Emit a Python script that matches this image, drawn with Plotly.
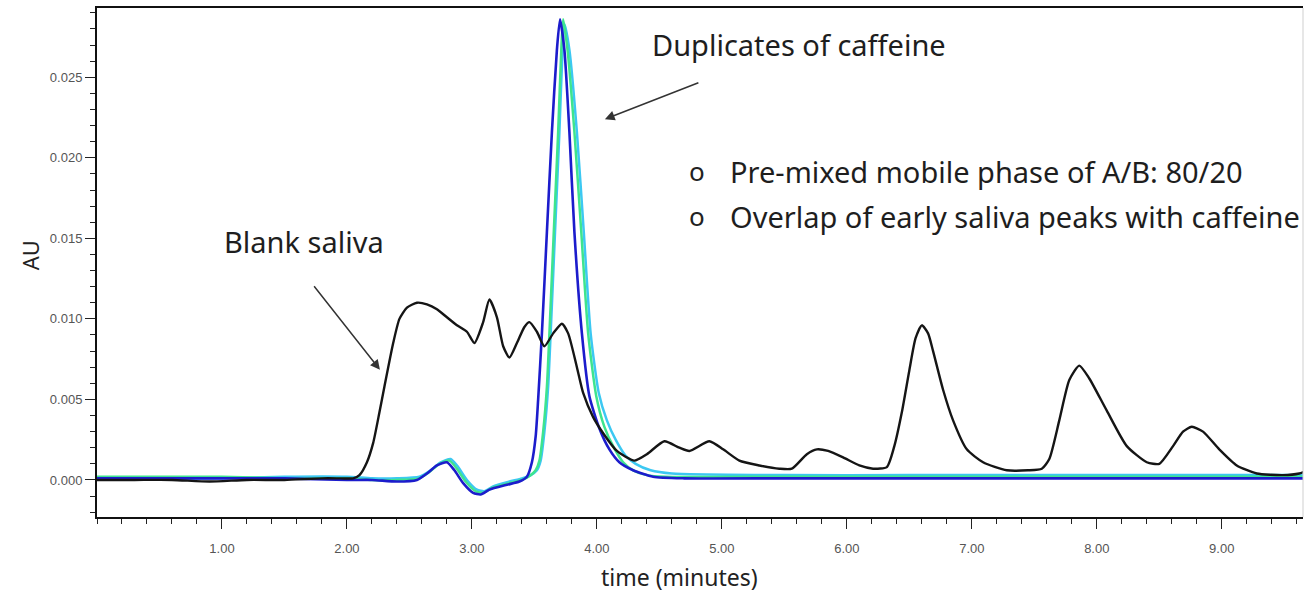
import plotly.graph_objects as go

# ---- chromatogram data (time in minutes, absorbance in AU) ----
blank_t = [0.00, 0.30, 0.60, 0.90, 1.20, 1.50, 1.80, 1.95, 2.05, 2.10, 2.16, 2.21, 2.26, 2.30,
           2.37, 2.42, 2.48, 2.56, 2.64, 2.72, 2.80, 2.88, 2.96, 3.02, 3.09, 3.14, 3.20, 3.25,
           3.30, 3.36, 3.42, 3.46, 3.52, 3.58, 3.65, 3.72, 3.77, 3.84, 3.89, 3.97, 4.05, 4.16,
           4.30, 4.40, 4.54, 4.66, 4.74, 4.90, 5.01, 5.14, 5.30, 5.46, 5.56, 5.68, 5.76, 5.85,
           5.97, 6.10, 6.21, 6.32, 6.38, 6.44, 6.50, 6.55, 6.60, 6.65, 6.69, 6.77, 6.85, 6.96,
           7.09, 7.28, 7.45, 7.56, 7.62, 7.70, 7.78, 7.86, 7.94, 8.08, 8.24, 8.40, 8.50, 8.61,
           8.69, 8.76, 8.85, 8.98, 9.12, 9.28, 9.49, 9.62, 9.69]
blank_au = [0.0000, 0.0000, 0.0000, -0.0001, 0.0000, 0.0000, 0.0001, 0.0001, 0.0001, 0.0003,
            0.0011, 0.0023, 0.0042, 0.0058, 0.0085, 0.0100, 0.0107, 0.0110, 0.0109, 0.0106,
            0.0101, 0.0096, 0.0092, 0.0085, 0.0098, 0.0112, 0.0101, 0.0083, 0.0076, 0.0085,
            0.0095, 0.0098, 0.0092, 0.0083, 0.0091, 0.0097, 0.0091, 0.0070, 0.0054, 0.0039,
            0.0029, 0.0018, 0.0012, 0.0016, 0.0024, 0.0020, 0.0018, 0.0024, 0.0019, 0.0012,
            0.0009, 0.0007, 0.0007, 0.0016, 0.0019, 0.0018, 0.0014, 0.0009, 0.0007, 0.0008,
            0.0021, 0.0042, 0.0068, 0.0088, 0.0096, 0.0091, 0.0080, 0.0056, 0.0037, 0.0019,
            0.0011, 0.0006, 0.0006, 0.0007, 0.0013, 0.0037, 0.0062, 0.0071, 0.0063, 0.0043,
            0.0021, 0.0011, 0.0010, 0.0021, 0.0030, 0.0033, 0.0030, 0.0019, 0.0009, 0.0004,
            0.0003, 0.0004, 0.0006]

caf1_t = [0.00, 0.50, 1.00, 1.50, 2.00, 2.20, 2.40, 2.56, 2.64, 2.72, 2.80, 2.86, 2.93, 3.01,
          3.07, 3.14, 3.28, 3.38, 3.44, 3.48, 3.51, 3.53, 3.56, 3.60, 3.64, 3.68, 3.705, 3.74,
          3.78, 3.82, 3.88, 3.94, 4.02, 4.10, 4.18, 4.29, 4.45, 4.70, 5.50, 6.50, 7.50, 8.50,
          9.69]
caf1_au = [0.0001, 0.0001, 0.0001, 0.0001, 0.0000, 0.0000, -0.0001, 0.0000, 0.0004, 0.0009,
           0.0011, 0.0006, -0.0002, -0.0008, -0.0009, -0.0006, -0.0003, -0.0001, 0.0002, 0.0011,
           0.0027, 0.0050, 0.0091, 0.0154, 0.0216, 0.0267, 0.0286, 0.0267, 0.0216, 0.0154,
           0.0091, 0.0052, 0.0032, 0.0019, 0.0011, 0.0006, 0.0002, 0.0001, 0.0001, 0.0001,
           0.0001, 0.0001, 0.0001]

caf2_t = [0.00, 0.50, 1.00, 1.50, 2.00, 2.20, 2.40, 2.58, 2.66, 2.74, 2.82, 2.88, 2.95, 3.03,
          3.09, 3.16, 3.30, 3.40, 3.47, 3.51, 3.54, 3.57, 3.60, 3.62, 3.655, 3.69, 3.715, 3.73,
          3.765, 3.82, 3.875, 3.93, 3.995, 4.06, 4.13, 4.21, 4.29, 4.40, 4.55, 5.50, 6.50,
          7.50, 8.50, 9.69]
caf2_au = [0.0002, 0.0002, 0.0002, 0.0001, 0.0001, 0.0000, 0.0000, 0.0001, 0.0005, 0.0010,
           0.0012, 0.0007, -0.0001, -0.0007, -0.0008, -0.0005, -0.0002, 0.0000, 0.0003, 0.0006,
           0.0012, 0.0030, 0.0058, 0.0091, 0.0154, 0.0216, 0.0267, 0.0286, 0.0267, 0.0216,
           0.0154, 0.0091, 0.0052, 0.0033, 0.0021, 0.0011, 0.0006, 0.0003, 0.0002, 0.0002,
           0.0002, 0.0002, 0.0002, 0.0002]

caf3_t = [0.00, 0.50, 1.00, 1.50, 2.00, 2.20, 2.40, 2.58, 2.67, 2.75, 2.83, 2.89, 2.96, 3.04,
          3.10, 3.17, 3.30, 3.40, 3.47, 3.52, 3.55, 3.58, 3.61, 3.63, 3.665, 3.70, 3.725, 3.74,
          3.78, 3.84, 3.895, 3.95, 4.015, 4.08, 4.15, 4.23, 4.31, 4.43, 4.60, 5.50, 6.50,
          7.50, 8.50, 9.69]
caf3_au = [0.0001, 0.0001, 0.0001, 0.0002, 0.0002, 0.0001, 0.0001, 0.0002, 0.0006, 0.0011,
           0.0013, 0.0008, 0.0000, -0.0006, -0.0007, -0.0004, -0.0001, 0.0001, 0.0003, 0.0006,
           0.0012, 0.0030, 0.0058, 0.0091, 0.0154, 0.0216, 0.0267, 0.0283, 0.0267, 0.0216,
           0.0154, 0.0091, 0.0054, 0.0037, 0.0025, 0.0015, 0.0010, 0.0006, 0.0004, 0.0003,
           0.0003, 0.0003, 0.0003, 0.0003]

x_ticks = [1, 2, 3, 4, 5, 6, 7, 8, 9]
x_tick_labels = ["1.00", "2.00", "3.00", "4.00", "5.00", "6.00", "7.00", "8.00", "9.00"]
y_ticks = [0.0, 0.005, 0.010, 0.015, 0.020, 0.025]
y_tick_labels = ["0.000", "0.005", "0.010", "0.015", "0.020", "0.025"]

TEXT_FONT = "Noto Sans, Open Sans, DejaVu Sans, sans-serif"
TICK_FONT = "Liberation Sans Narrow, Liberation Sans, Arial, sans-serif"

fig = go.Figure()


def add_trace(t, au, color, width):
    fig.add_trace(go.Scatter(
        x=t, y=au, mode="lines",
        line=dict(color=color, width=width, shape="spline", smoothing=0.6),
        hoverinfo="skip", showlegend=False,
    ))


add_trace(caf3_t, caf3_au, "#3cc8f2", 2.5)
add_trace(caf2_t, caf2_au, "#3ee48e", 2.5)
add_trace(caf1_t, caf1_au, "#1c1ccc", 2.6)
add_trace(blank_t, blank_au, "#151515", 2.4)

fig.update_layout(
    width=1308, height=593,
    margin=dict(l=97, r=5, t=8, b=76),
    paper_bgcolor="white", plot_bgcolor="white",
    showlegend=False,
    xaxis=dict(
        range=[0, 9.65], showgrid=False, zeroline=False,
        showline=True, linecolor="#111", linewidth=2, mirror=True,
        tickmode="array", tickvals=x_ticks, ticktext=x_tick_labels,
        ticks="outside", ticklen=10, tickwidth=1.3, tickcolor="#222",
        ticklabelstandoff=8,
        tickfont=dict(family=TICK_FONT, size=13, color="#555"),
        minor=dict(dtick=0.2, tick0=0, ticks="outside", ticklen=5,
                   tickwidth=1, tickcolor="#222", showgrid=False),
    ),
    yaxis=dict(
        range=[-0.0023, 0.0293], showgrid=False, zeroline=False,
        showline=True, linecolor="#111", linewidth=2,
        tickmode="array", tickvals=y_ticks, ticktext=y_tick_labels,
        ticks="outside", ticklen=10, tickwidth=1.3, tickcolor="#222",
        tickfont=dict(family=TICK_FONT, size=13, color="#555"),
        minor=dict(dtick=0.001, tick0=0, ticks="outside", ticklen=5,
                   tickwidth=1, tickcolor="#222", showgrid=False),
    ),
)

# faint right-hand frame edge
fig.add_shape(type="line", xref="paper", yref="paper", x0=1, x1=1, y0=0, y1=1,
              line=dict(color="#cfcfcf", width=1))

# axis titles
fig.add_annotation(text="AU", xref="paper", yref="paper", x=-0.056, y=0.515,
                   xanchor="center", yanchor="middle", showarrow=False, textangle=-90,
                   font=dict(family=TEXT_FONT, size=22, color="#222"))
fig.add_annotation(text="time (minutes)", xref="paper", yref="paper", x=0.483, y=-0.118,
                   xanchor="center", yanchor="middle", showarrow=False,
                   font=dict(family=TEXT_FONT, size=23, color="#222"))

# callouts
fig.add_annotation(text="Duplicates of caffeine", x=5.62, y=0.02706, showarrow=False,
                   xanchor="center", yanchor="middle",
                   font=dict(family=TEXT_FONT, size=29, color="#1e1e1e"))
fig.add_annotation(text="Blank saliva", x=1.66, y=0.0148, showarrow=False,
                   xanchor="center", yanchor="middle",
                   font=dict(family=TEXT_FONT, size=29, color="#1e1e1e"))
fig.add_annotation(x=4.064, y=0.0224, ax=95, ay=-37, text="", showarrow=True,
                   arrowhead=2, arrowsize=1.3, arrowwidth=1.5, arrowcolor="#333")
fig.add_annotation(x=2.264, y=0.00684, ax=-67, ay=-85, text="", showarrow=True,
                   arrowhead=2, arrowsize=1.3, arrowwidth=1.5, arrowcolor="#333")

notes = ["Pre-mixed mobile phase of A/B: 80/20",
         "Overlap of early saliva peaks with caffeine"]
note_y = [0.01916, 0.01636]
for txt, yy in zip(notes, note_y):
    fig.add_annotation(text="o", x=4.80, y=yy, showarrow=False,
                       xanchor="center", yanchor="middle",
                       font=dict(family=TEXT_FONT, size=26, color="#222"))
    fig.add_annotation(text=txt, x=5.05, y=yy, xanchor="left", yanchor="middle",
                       showarrow=False,
                       font=dict(family=TEXT_FONT, size=29, color="#1e1e1e"))

fig.write_html("out.html")
